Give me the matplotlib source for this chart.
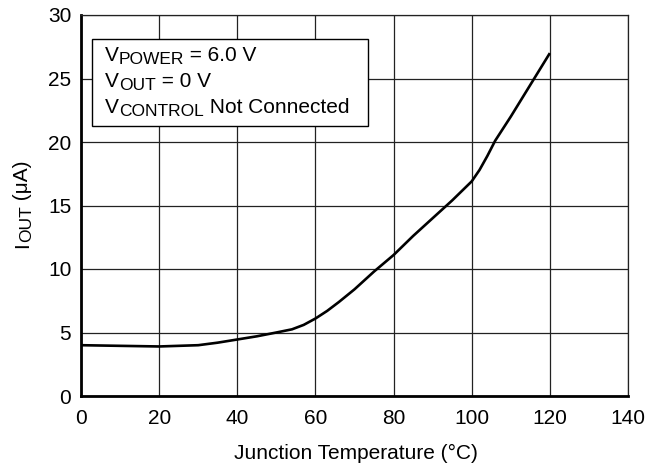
import numpy as np
import matplotlib
matplotlib.use('Agg')
import matplotlib.pyplot as plt
from matplotlib.patches import Rectangle

plt.rcParams['font.family'] = ['Liberation Sans', 'DejaVu Sans']

# curve
temp = [0, 10, 20, 30, 35, 40, 45, 50, 54, 57, 60, 63, 66, 70, 75, 80, 85, 90, 95, 100, 102, 104, 106, 110, 116, 120]
iout = [4.0, 3.95, 3.9, 4.0, 4.2, 4.45, 4.7, 5.0, 5.25, 5.6, 6.1, 6.7, 7.4, 8.4, 9.8, 11.1, 12.6, 14.0, 15.4, 16.9, 17.8, 18.9, 20.1, 22.0, 25.0, 27.0]

xticks = [0, 20, 40, 60, 80, 100, 120, 140]
yticks = [0, 5, 10, 15, 20, 25, 30]
# (main, subscript, rest)
notes = [('V', 'POWER', ' = 6.0 V'), ('V', 'OUT', ' = 0 V'), ('V', 'CONTROL', ' Not Connected')]
ylab = ('I', 'OUT', ' (\u03bcA)')

BIG = 15
SUB = 12.5
W, H = 663, 468

fig = plt.figure(figsize=(W / 100, H / 100), dpi=100)
ax = fig.add_axes([81 / W, 72 / H, 547 / W, 381 / H])
r = fig.canvas.get_renderer()

ax.plot(temp, iout, color='black', lw=1.9, solid_capstyle='butt', zorder=3)

ax.set_xlim(0, 140)
ax.set_ylim(0, 30)
ax.set_xticks(xticks)
ax.set_yticks(yticks)
ax.tick_params(length=0, labelsize=BIG, colors='black')
ax.tick_params(axis='x', pad=9)
ax.tick_params(axis='y', pad=7)
ax.grid(True, color='#222222', lw=0.9)
for s in ['top', 'right']:
    ax.spines[s].set_linewidth(0.9)
    ax.spines[s].set_color('#222222')
for s in ['left', 'bottom']:
    ax.spines[s].set_linewidth(2.0)

fig.text((233 + 245 / 2) / W, 1 - 459 / H, 'Junction Temperature (\u00b0C)',
         fontsize=BIG, ha='center', va='baseline')


def pieces(x, y, parts, rot=0, drop=3.5):
    # x, y in pixels (from bottom-left); parts drawn one after another
    pos = 0
    made = []
    for k, txt in enumerate(parts):
        size = SUB if k == 1 else BIG
        off = -drop if k == 1 else 0
        if rot == 0:
            t = fig.text((x + pos) / W, (y + off) / H, txt, fontsize=size,
                         ha='left', va='baseline', zorder=6)
            pos += t.get_window_extent(r).width
        else:
            t = fig.text((x - off) / W, (y + pos) / H, txt, fontsize=size, rotation=90,
                         rotation_mode='anchor', ha='left', va='baseline', zorder=6)
            pos += t.get_window_extent(r).height
        made.append(t)
    return pos, made


# condition box
ax.add_patch(Rectangle((0.0195, 0.709), 0.5045, 0.228, transform=ax.transAxes,
                       facecolor='white', edgecolor='black', lw=1.0, zorder=4))
for i, parts in enumerate(notes):
    pieces(105, H - (61 + i * 25.8), parts)

# y label, centred on the axes
tmp, made = pieces(100, 100, ylab, rot=90)
for t in made:
    t.remove()
pieces(28, (H - 204) - tmp / 2, ylab, rot=90)

fig.savefig('out.png', dpi=100)
